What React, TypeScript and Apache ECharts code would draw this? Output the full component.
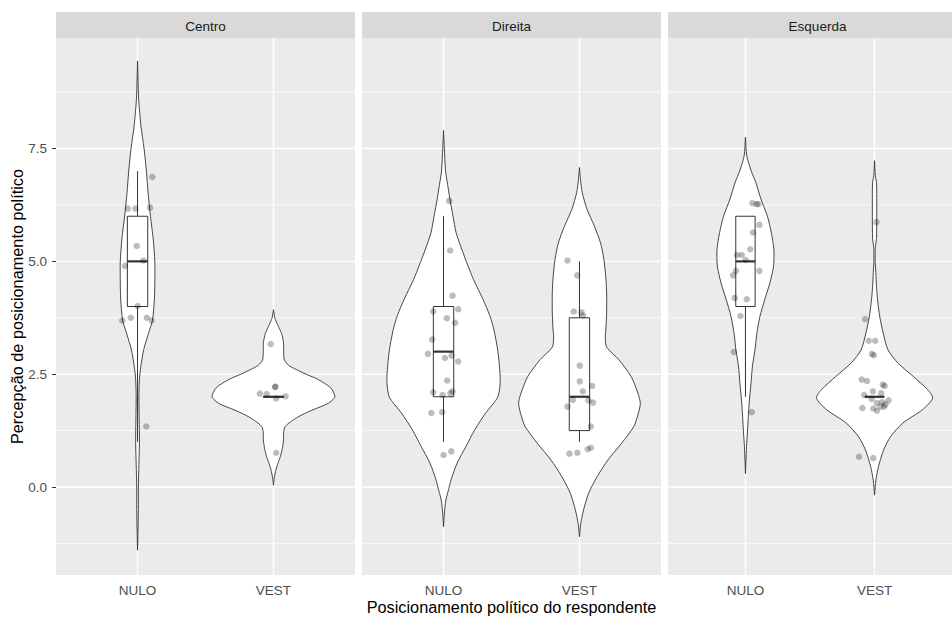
import React, { useEffect, useRef } from 'react';
import * as echarts from 'echarts';

// ---------- data ----------
const panels = ['Centro', 'Direita', 'Esquerda'];
const categories = ['NULO', 'VEST'];
const yTicks = [0, 2.5, 5, 7.5];
const yMinorTicks = [-1.25, 1.25, 3.75, 6.25, 8.75];
const yRange = [-1.95, 9.95];
const xRange = [0.4, 2.6];

// boxplot stats: [lower whisker, Q1, median, Q3, upper whisker]
const centroBoxes = [[1, 4, 5, 6, 7], [2, 2, 2, 2, 2]];
const direitaBoxes = [[1, 2, 3, 4, 6], [1, 1.25, 2, 3.75, 5]];
const esquerdaBoxes = [[2, 4, 5, 6, 6], [2, 2, 2, 2, 2]];

// violin outlines: [value, half width in category units]
const centroNuloViolin = [
  [9.44, 0], [9.0, 0.004], [8.6, 0.008], [8.0, 0.025], [7.5, 0.048], [7.0, 0.065], [6.5, 0.078],
  [6.0, 0.095], [5.5, 0.115], [5.0, 0.127], [4.5, 0.127], [4.16, 0.124], [3.7, 0.11], [3.4, 0.08],
  [3.04, 0.045], [2.67, 0.024], [2.4, 0.014], [2.0, 0.01], [1.5, 0.012], [1.0, 0.014], [0.5, 0.01],
  [0, 0.006], [-0.5, 0.006], [-1.0, 0.003], [-1.4, 0],
];
const centroVestViolin = [
  [3.93, 0], [3.75, 0.01], [3.6, 0.03], [3.4, 0.06], [3.2, 0.074], [3.0, 0.075], [2.82, 0.08],
  [2.7, 0.11], [2.6, 0.17], [2.5, 0.24], [2.38, 0.33], [2.2, 0.42], [2.0, 0.452], [1.85, 0.4],
  [1.71, 0.29], [1.6, 0.21], [1.49, 0.147], [1.34, 0.086], [1.2, 0.075], [1.04, 0.074],
  [0.85, 0.065], [0.67, 0.05], [0.5, 0.03], [0.38, 0.018], [0.2, 0.006], [0.04, 0],
];
const direitaNuloViolin = [
  [7.9, 0], [7.5, 0.006], [7.0, 0.015], [6.7, 0.03], [6.38, 0.047], [6.0, 0.07], [5.64, 0.092],
  [5.3, 0.13], [4.9, 0.18], [4.6, 0.22], [4.16, 0.29], [3.8, 0.34], [3.49, 0.37], [3.0, 0.4],
  [2.38, 0.417], [2.0, 0.4], [1.64, 0.31], [1.27, 0.23], [0.9, 0.165], [0.53, 0.1], [0.16, 0.055],
  [0.01, 0.043], [-0.29, 0.017], [-0.6, 0.006], [-0.88, 0],
];
const direitaVestViolin = [
  [7.08, 0], [6.8, 0.008], [6.53, 0.02], [6.16, 0.055], [5.78, 0.11], [5.41, 0.155], [5.04, 0.18],
  [4.6, 0.195], [4.3, 0.2], [3.9, 0.2], [3.56, 0.196], [3.3, 0.19], [3.1, 0.2], [2.82, 0.29],
  [2.45, 0.38], [2.08, 0.43], [1.85, 0.448], [1.6, 0.43], [1.34, 0.4], [0.97, 0.31], [0.6, 0.21],
  [0.23, 0.13], [-0.14, 0.067], [-0.51, 0.03], [-0.8, 0.01], [-1.1, 0],
];
const esquerdaNuloViolin = [
  [7.75, 0], [7.34, 0.01], [7.0, 0.045], [6.75, 0.08], [6.38, 0.12], [6.0, 0.17], [5.64, 0.2],
  [5.27, 0.22], [4.9, 0.218], [4.53, 0.19], [4.16, 0.15], [3.78, 0.112], [3.4, 0.088], [3.04, 0.074],
  [2.7, 0.055], [2.3, 0.043], [1.9, 0.03], [1.56, 0.022], [1.2, 0.015], [0.9, 0.008], [0.6, 0.004],
  [0.3, 0],
];
const esquerdaVestViolin = [
  [7.23, 0], [6.9, 0.006], [6.75, 0.015], [6.5, 0.017], [6.0, 0.017], [5.5, 0.015], [5.3, 0.006],
  [5.0, 0.005], [4.75, 0.01], [4.45, 0.015], [4.16, 0.023], [3.78, 0.04], [3.41, 0.067],
  [3.04, 0.104], [2.75, 0.18], [2.45, 0.3], [2.16, 0.41], [1.97, 0.45], [1.71, 0.37], [1.42, 0.22],
  [1.12, 0.125], [0.82, 0.07], [0.45, 0.03], [0.15, 0.01], [-0.18, 0],
];

// jittered observations: [x offset from category, value]
const centroNuloPts = [
  [0.109, 6.87], [-0.072, 6.17], [-0.016, 6.17], [0.092, 6.19], [-0.006, 5.34], [0.043, 5.02],
  [-0.092, 4.9], [0.001, 4.01], [-0.112, 3.69], [-0.05, 3.75], [0.068, 3.75], [0.104, 3.69],
  [0.064, 1.34],
];
const centroVestPts = [
  [-0.02, 3.17], [0.013, 2.22], [0.013, 2.22], [-0.1, 2.07], [-0.05, 2.06], [0.02, 1.96],
  [0.089, 2.01], [0.02, 0.76],
];
const direitaNuloPts = [
  [0.042, 6.34], [0.049, 5.24], [0.066, 4.24], [0.108, 3.94], [-0.076, 3.89], [0.024, 3.74],
  [0.086, 3.64], [-0.083, 3.27], [-0.115, 2.95], [0.01, 2.86], [0.059, 2.91], [0.108, 2.78],
  [0.027, 2.36], [-0.076, 2.1], [-0.007, 2.04], [0.051, 2.08], [0.066, 2.12], [-0.09, 1.64],
  [-0.01, 1.66], [0.0, 0.71], [0.057, 0.79],
];
const direitaVestPts = [
  [-0.088, 5.02], [-0.017, 4.69], [-0.042, 3.89], [0.015, 3.87], [0.027, 3.8], [0.002, 2.69],
  [0.002, 2.34], [0.025, 2.12], [0.093, 2.24], [-0.049, 1.93], [0.066, 1.92], [0.1, 1.87],
  [-0.088, 1.78], [0.084, 1.34], [-0.074, 0.74], [-0.015, 0.76], [0.061, 0.84], [0.084, 0.87],
];
const esquerdaNuloPts = [
  [0.054, 6.29], [0.086, 6.27], [0.1, 6.27], [0.108, 5.81], [0.059, 5.64], [0.037, 5.27],
  [-0.066, 5.14], [-0.029, 5.14], [0.002, 5.03], [-0.074, 4.79], [-0.096, 4.69], [0.108, 4.79],
  [-0.083, 4.19], [0.01, 4.16], [-0.039, 3.79], [-0.09, 2.99], [0.049, 1.66],
];
const esquerdaVestPts = [
  [0.015, 5.87], [-0.072, 3.72], [-0.045, 3.24], [0.005, 3.24], [-0.02, 2.95], [-0.005, 2.92],
  [-0.1, 2.38], [-0.059, 2.35], [0.064, 2.27], [0.078, 2.24], [-0.08, 2.04], [-0.013, 2.12],
  [0.051, 2.08], [-0.022, 1.95], [0.019, 1.86], [0.059, 1.88], [0.108, 1.92], [0.074, 1.78],
  [0.047, 1.78], [-0.094, 1.75], [-0.01, 1.74], [0.019, 1.69], [0.085, 1.83], [-0.12, 0.67],
  [-0.01, 0.64],
];

const boxesByPanel = [centroBoxes, direitaBoxes, esquerdaBoxes];
const violinsByPanel = [
  [centroNuloViolin, centroVestViolin],
  [direitaNuloViolin, direitaVestViolin],
  [esquerdaNuloViolin, esquerdaVestViolin],
];
const pointsByPanel = [
  [centroNuloPts, centroVestPts],
  [direitaNuloPts, direitaVestPts],
  [esquerdaNuloPts, esquerdaVestPts],
];

// ---------- layout / style ----------
const FONT = '"Liberation Sans", Arial, Helvetica, sans-serif';
const GRID_LEFTS = [56, 362, 668];
const GRID_TOP = 38;
const GRID_W = 299;
const GRID_H = 537;
const STRIP_TOP = 12;
const BOX_HALF = 0.075;
const LINE_COLOR = '#333333';
const SMALL_FONT = 13.5;
const TITLE_FONT = 16.3;

function buildOption(): any {
  const grids = panels.map((_, i) => ({
    left: GRID_LEFTS[i],
    top: GRID_TOP,
    width: GRID_W,
    height: GRID_H,
    show: true,
    backgroundColor: '#EBEBEB',
    borderWidth: 0,
  }));

  const xAxes = panels.map((_, i) => ({
    gridIndex: i,
    type: 'value',
    min: xRange[0],
    max: xRange[1],
    axisLine: { show: false },
    splitLine: { show: false },
    axisTick: {
      show: true,
      customValues: [1, 2],
      length: 4,
      lineStyle: { color: LINE_COLOR, width: 1 },
    },
    axisLabel: {
      show: true,
      customValues: [1, 2],
      formatter: (v: number) => categories[Math.round(v) - 1] ?? '',
      color: '#4D4D4D',
      fontSize: SMALL_FONT,
      fontFamily: FONT,
      margin: 8,
    },
  }));

  const yAxes = panels.map((_, i) => ({
    gridIndex: i,
    type: 'value',
    min: yRange[0],
    max: yRange[1],
    axisLine: { show: false },
    splitLine: { show: false },
    axisTick: {
      show: i === 0,
      customValues: yTicks,
      length: 4,
      lineStyle: { color: LINE_COLOR, width: 1 },
    },
    axisLabel: {
      show: i === 0,
      customValues: yTicks,
      formatter: (v: number) => v.toFixed(1),
      color: '#4D4D4D',
      fontSize: SMALL_FONT,
      fontFamily: FONT,
      margin: 9,
    },
  }));

  const series: any[] = [];
  panels.forEach((_, i) => {
    // grid lines: [x, y, major, orientation(0 = horizontal, 1 = vertical)]
    const gridData: number[][] = [];
    yTicks.forEach((v) => gridData.push([1.5, v, 1, 0]));
    yMinorTicks.forEach((v) => gridData.push([1.5, v, 0, 0]));
    categories.forEach((_, c) => gridData.push([c + 1, 0, 1, 1]));
    series.push({
      type: 'custom',
      xAxisIndex: i,
      yAxisIndex: i,
      z: 1,
      silent: true,
      data: gridData,
      renderItem: (params: any, api: any) => {
        const cs = params.coordSys;
        const major = api.value(2) === 1;
        const lw = major ? 1.4 : 0.7;
        if (api.value(3) === 0) {
          const p = api.coord([xRange[0], api.value(1)]);
          return {
            type: 'line',
            shape: { x1: cs.x, y1: p[1], x2: cs.x + cs.width, y2: p[1] },
            style: { stroke: '#FFFFFF', lineWidth: lw },
          };
        }
        const p = api.coord([api.value(0), yRange[0]]);
        return {
          type: 'line',
          shape: { x1: p[0], y1: cs.y, x2: p[0], y2: cs.y + cs.height },
          style: { stroke: '#FFFFFF', lineWidth: lw },
        };
      },
    });

    // violins
    series.push({
      type: 'custom',
      xAxisIndex: i,
      yAxisIndex: i,
      z: 2,
      silent: true,
      data: categories.map((_, c) => [c + 1, c]),
      renderItem: (_p: any, api: any) => {
        const cx = api.value(0);
        const prof = violinsByPanel[i][api.value(1)];
        const right = prof.map(([v, w]) => api.coord([cx + w, v]));
        const left = prof.slice().reverse().map(([v, w]) => api.coord([cx - w, v]));
        return {
          type: 'polygon',
          shape: { points: [...right, ...left], smooth: 0.25 },
          style: { fill: '#FFFFFF', stroke: LINE_COLOR, lineWidth: 0.9 },
        };
      },
    });

    // boxplots
    series.push({
      type: 'custom',
      xAxisIndex: i,
      yAxisIndex: i,
      z: 3,
      silent: true,
      data: categories.map((_, c) => [c + 1, c]),
      renderItem: (_p: any, api: any) => {
        const cx = api.value(0);
        const [lo, q1, med, q3, hi] = boxesByPanel[i][api.value(1)];
        const top = api.coord([cx - BOX_HALF, q3]);
        const bot = api.coord([cx + BOX_HALF, q1]);
        const wLo1 = api.coord([cx, q1]);
        const wLo2 = api.coord([cx, lo]);
        const wHi1 = api.coord([cx, q3]);
        const wHi2 = api.coord([cx, hi]);
        const mL = api.coord([cx - BOX_HALF, med]);
        const mR = api.coord([cx + BOX_HALF, med]);
        const lineStyle = { stroke: LINE_COLOR, lineWidth: 1 };
        return {
          type: 'group',
          children: [
            { type: 'line', shape: { x1: wLo1[0], y1: wLo1[1], x2: wLo2[0], y2: wLo2[1] }, style: lineStyle },
            { type: 'line', shape: { x1: wHi1[0], y1: wHi1[1], x2: wHi2[0], y2: wHi2[1] }, style: lineStyle },
            {
              type: 'rect',
              shape: { x: top[0], y: top[1], width: bot[0] - top[0], height: bot[1] - top[1] },
              style: { fill: '#FFFFFF', stroke: LINE_COLOR, lineWidth: 1 },
            },
            {
              type: 'line',
              shape: { x1: mL[0], y1: mL[1], x2: mR[0], y2: mR[1] },
              style: { stroke: LINE_COLOR, lineWidth: 2.2 },
            },
          ],
        };
      },
    });

    // jittered points
    const pts: number[][] = [];
    pointsByPanel[i].forEach((arr, c) => arr.forEach(([dx, v]) => pts.push([c + 1 + dx, v])));
    series.push({
      type: 'scatter',
      xAxisIndex: i,
      yAxisIndex: i,
      z: 4,
      silent: true,
      symbol: 'circle',
      symbolSize: 6.5,
      itemStyle: { color: 'rgba(0,0,0,0.33)', borderWidth: 0 },
      data: pts,
    });
  });

  const graphics: any[] = [];
  panels.forEach((name, i) => {
    graphics.push({
      type: 'rect',
      left: GRID_LEFTS[i],
      top: STRIP_TOP,
      shape: { width: GRID_W, height: GRID_TOP - STRIP_TOP },
      style: { fill: '#D9D9D9' },
      silent: true,
    });
    graphics.push({
      type: 'text',
      x: GRID_LEFTS[i] + GRID_W / 2,
      y: (STRIP_TOP + GRID_TOP) / 2 + 1,
      silent: true,
      style: {
        text: name,
        fontSize: SMALL_FONT,
        fontFamily: FONT,
        fill: '#1A1A1A',
        align: 'center',
        verticalAlign: 'middle',
      },
    });
  });
  graphics.push({
    type: 'text',
    x: GRID_LEFTS[1] + GRID_W / 2,
    y: 607,
    silent: true,
    style: {
      text: 'Posicionamento político do respondente',
      fontSize: TITLE_FONT,
      fontFamily: FONT,
      fill: '#000000',
      align: 'center',
      verticalAlign: 'middle',
    },
  });
  graphics.push({
    type: 'text',
    x: 17,
    y: GRID_TOP + GRID_H / 2,
    rotation: Math.PI / 2,
    silent: true,
    style: {
      text: 'Percepção de posicionamento político',
      fontSize: TITLE_FONT,
      fontFamily: FONT,
      fill: '#000000',
      align: 'center',
      verticalAlign: 'middle',
    },
  });

  return {
    animation: false,
    backgroundColor: '#FFFFFF',
    textStyle: { fontFamily: FONT },
    grid: grids,
    xAxis: xAxes,
    yAxis: yAxes,
    series,
    graphic: graphics,
  };
}

export default function App() {
  const ref = useRef<HTMLDivElement>(null);
  useEffect(() => {
    document.body.style.margin = '0';
    const chart = echarts.init(ref.current!, null, { renderer: 'svg' });
    chart.setOption(buildOption());
    return () => chart.dispose();
  }, []);
  return (
    <div
      ref={ref}
      style={{ width: 952, height: 617, position: 'absolute', left: 0, top: 0 }}
    />
  );
}
